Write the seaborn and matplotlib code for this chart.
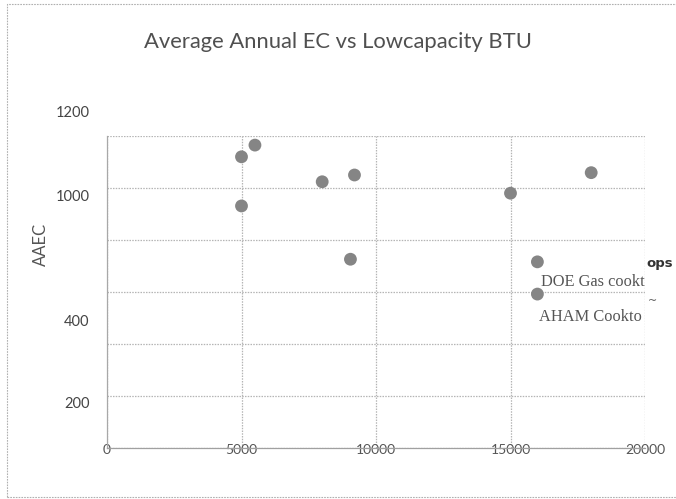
import matplotlib
matplotlib.use("Agg")
import matplotlib.pyplot as plt
import seaborn as sns
import pandas as pd
from matplotlib.patches import Rectangle

# ---- data ----
btu = [5500, 5000, 5000, 8000, 9200, 9050, 18000, 15000, 16000, 16000]
aaec = [1165, 1120, 931, 1024, 1050, 726, 1059, 980, 716, 592]
title = "Average Annual EC vs Lowcapacity BTU"
y_label = "AAEC"
x_ticks = [0, 5000, 10000, 15000, 20000]
x_tick_labels = ["0", "5000", "10000", "15000", "20000"]
y_grid = [0, 200, 400, 600, 800, 1000, 1200]
y_tick_labels = ["200", "400", "1000", "1200"]
y_label_pos = [169, 485, 965, 1288]  # where the scanned labels sit
legend_texts = ["DOE Gas cookt", "AHAM Cookto"]

df = pd.DataFrame({"BTU": btu, "AAEC": aaec})

sns.set_theme(style="white")
plt.rcParams["font.family"] = ["Lato", "DejaVu Sans"]

fig = plt.figure(figsize=(6.76, 4.99), dpi=100)
ax = fig.add_axes([107/676, (499-448)/499, (645-107)/676, (448-136)/499])

sns.scatterplot(data=df, x="BTU", y="AAEC", ax=ax, color="#858585",
                edgecolor="none", s=85, legend=False, zorder=3)

ax.set_xlim(0, 20000)
ax.set_ylim(0, 1200)
ax.set_xticks(x_ticks)
ax.set_xticklabels(x_tick_labels)
ax.set_yticks(y_grid)
ax.set_yticklabels([])
ax.tick_params(axis="y", length=0)
ax.tick_params(axis="x", length=0, pad=1.5, labelsize=10, colors="#555555")
for lbl in ax.get_xticklabels():
    lbl.set_verticalalignment("center")
ax.set_xlabel("")
ax.set_ylabel("")

ax.grid(True, color="#b5b5b5", linestyle=(0, (1.2, 1.0)), linewidth=0.9)
ax.set_axisbelow(True)
for s in ["top", "right"]:
    ax.spines[s].set_visible(False)
ax.spines["left"].set_color("#a8a8a8")
ax.spines["left"].set_linestyle((0, (1.2, 1.0)))
ax.spines["left"].set_linewidth(0.9)
ax.spines["bottom"].set_color("#a0a0a0")
ax.spines["bottom"].set_linewidth(0.9)

# y tick labels (as positioned in reference)
for t, v in zip(y_tick_labels, y_label_pos):
    ax.text(-0.032, v, t, transform=ax.get_yaxis_transform(), ha="right",
            va="center", fontsize=10.5, color="#444444", clip_on=False)

fig.text(41/676, 1-244/499, y_label, rotation=90, ha="center", va="center",
         fontsize=12, color="#555555")
fig.text(338/676, 1-42/499, title, ha="center", va="center",
         fontsize=15.8, color="#505050")

# clipped legend remnants
fig.text(541/676, 1-282/499, legend_texts[0], ha="left", va="center",
         fontsize=11.8, color="#555555", family="Liberation Serif")
fig.text(539/676, 1-317/499, legend_texts[1], ha="left", va="center",
         fontsize=11.8, color="#555555", family="Liberation Serif")
fig.text(646/676, 1-264/499, "ops", ha="left", va="center",
         fontsize=9.5, color="#333333", fontweight="bold", family="DejaVu Sans")
fig.text(648/676, 1-301/499, "~", ha="left", va="center",
         fontsize=8, color="#555555", family="DejaVu Sans")

# outer dashed border
fig.patches.append(Rectangle((7/676, 2/499), 1.0, 493/499, transform=fig.transFigure,
                             fill=False, edgecolor="#b0b0b0", linewidth=0.8,
                             linestyle=(0, (1.5, 1.0))))

fig.savefig("out.png", dpi=100, facecolor="white")
